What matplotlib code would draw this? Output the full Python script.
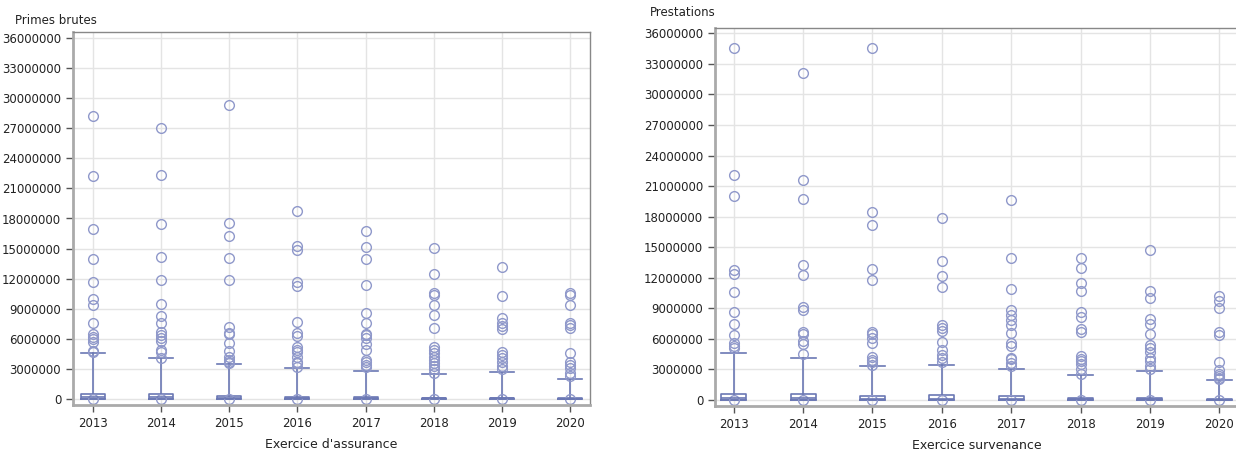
import matplotlib.pyplot as plt

# years on both panels
years = ["2013", "2014", "2015", "2016", "2017", "2018", "2019", "2020"]

# Primes brutes - box statistics
primes_q1 = [0, 0, 0, 0, 0, 0, 0, 0]
primes_med = [150000, 150000, 100000, 80000, 80000, 50000, 50000, 30000]
primes_q3 = [470000, 470000, 330000, 230000, 230000, 130000, 130000, 80000]
primes_whishi = [4550000, 4050000, 3500000, 3050000, 2800000, 2450000, 2650000, 2000000]
primes_out = [
    [28200000, 22200000, 17000000, 14000000, 11700000, 10000000, 9400000, 7600000,
     6500000, 6200000, 6000000, 5700000, 4800000, 4700000, 0],
    [27000000, 22300000, 17500000, 14200000, 11900000, 9500000, 8300000, 7600000,
     6700000, 6400000, 6100000, 5800000, 4900000, 4700000, 4100000, 0],
    [29300000, 17600000, 16300000, 14100000, 11900000, 7200000, 6600000, 6500000,
     5600000, 4800000, 4200000, 3900000, 3700000, 3550000, 0],
    [18700000, 15250000, 14900000, 11700000, 11300000, 7700000, 6600000, 6300000,
     5200000, 4900000, 4700000, 4200000, 3700000, 3550000, 3200000, 0],
    [16800000, 15200000, 14000000, 11400000, 8600000, 7600000, 6500000, 6400000,
     6100000, 5500000, 4900000, 3900000, 3700000, 3400000, 3200000, 0],
    [15100000, 12500000, 10600000, 10400000, 9400000, 8400000, 7050000, 5200000,
     4900000, 4600000, 4200000, 3900000, 3600000, 3300000, 2950000, 2600000, 0],
    [13200000, 10300000, 8050000, 7600000, 7300000, 7000000, 4700000, 4400000,
     4050000, 3700000, 3300000, 2950000, 0],
    [10600000, 10400000, 9400000, 7600000, 7400000, 7050000, 4600000, 3700000,
     3400000, 3100000, 2600000, 2300000, 0],
]

# Prestations - box statistics
prest_q1 = [0, 0, 0, 0, 0, 0, 0, 0]
prest_med = [200000, 150000, 100000, 100000, 100000, 50000, 50000, 30000]
prest_q3 = [620000, 550000, 350000, 460000, 350000, 160000, 160000, 100000]
prest_whishi = [4600000, 4150000, 3300000, 3400000, 3000000, 2500000, 2800000, 1950000]
prest_out = [
    [34600000, 22100000, 20000000, 12800000, 12400000, 10600000, 8600000, 7500000,
     6400000, 5600000, 5300000, 5100000, 0],
    [32100000, 21600000, 19700000, 13300000, 12300000, 9100000, 8800000, 6700000,
     6500000, 5800000, 5500000, 4500000, 0],
    [34600000, 18500000, 17200000, 12900000, 11800000, 6700000, 6500000, 6100000,
     5600000, 4200000, 3900000, 3700000, 3400000, 0],
    [17900000, 13600000, 12200000, 11100000, 7400000, 7100000, 6800000, 5700000,
     4900000, 4400000, 4100000, 3700000, 0],
    [19600000, 13900000, 10900000, 8800000, 8350000, 7900000, 7400000, 6600000,
     5600000, 5300000, 4100000, 4000000, 3600000, 3300000, 0],
    [13900000, 13000000, 11450000, 10700000, 8600000, 8100000, 7000000, 6700000,
     4300000, 4000000, 3800000, 3500000, 3000000, 2600000, 0],
    [14700000, 10700000, 10000000, 8000000, 7500000, 6500000, 5400000, 5100000,
     4700000, 4100000, 3800000, 3300000, 3000000, 0],
    [10200000, 9700000, 9000000, 6700000, 6400000, 3700000, 2950000, 2600000,
     2400000, 2200000, 2100000, 0],
]

line_col = "#6B78B4"
out_col = "#8F98CA"
grid_col = "#E4E4E4"


def draw_box(ax, q1, med, q3, whishi, outs, width):
    stats = []
    for i in range(len(years)):
        stats.append({"q1": q1[i], "med": med[i], "q3": q3[i],
                      "whislo": q1[i], "whishi": whishi[i],
                      "fliers": outs[i], "label": years[i]})
    ax.bxp(stats, positions=range(len(years)), widths=width,
           capwidths=width, showfliers=True, manage_ticks=False,
           boxprops=dict(color=line_col, linewidth=1.2),
           whiskerprops=dict(color=line_col, linewidth=1.2),
           capprops=dict(color=line_col, linewidth=1.2),
           medianprops=dict(color=line_col, linewidth=1.2),
           flierprops=dict(marker="o", markersize=7, markerfacecolor="none",
                           markeredgecolor=out_col, markeredgewidth=1.0))
    ax.set_xticks(range(len(years)))
    ax.set_xticklabels(years)
    ax.set_yticks(range(0, 36000001, 3000000))
    ax.set_yticklabels([str(v) for v in range(0, 36000001, 3000000)])
    ax.grid(True, color=grid_col, linewidth=1)
    ax.set_axisbelow(True)
    ax.tick_params(colors="#555555", labelcolor="#222222", labelsize=8.5,
                   length=5, width=1)
    for s in ["top", "right"]:
        ax.spines[s].set_color("#888888")
        ax.spines[s].set_linewidth(1)
    for s in ["left", "bottom"]:
        ax.spines[s].set_color("#AAAAAA")
        ax.spines[s].set_linewidth(2)


fig = plt.figure(figsize=(12.36, 4.51), dpi=100)

ax1 = fig.add_axes([73 / 1236, 1 - 405 / 451, 517 / 1236, 373 / 451])
draw_box(ax1, primes_q1, primes_med, primes_q3, primes_whishi, primes_out, 0.35)
ax1.set_xlim(-0.29, 7.29)
ax1.set_ylim(-600000, 36600000)
ax1.set_xlabel("Exercice d'assurance", fontsize=9, color="#222222", labelpad=6)

ax2 = fig.add_axes([715 / 1236, 1 - 406 / 451, 523 / 1236, 378 / 451])
draw_box(ax2, prest_q1, prest_med, prest_q3, prest_whishi, prest_out, 0.36)
ax2.set_xlim(-0.27, 7.27)
ax2.set_ylim(-590000, 36520000)
ax2.set_xlabel("Exercice survenance", fontsize=9, color="#222222", labelpad=6)

fig.text(15 / 1236, 1 - 20 / 451, "Primes brutes", fontsize=8.5, color="#222222",
         va="center", ha="left")
fig.text(650 / 1236, 1 - 12 / 451, "Prestations", fontsize=8.5, color="#222222",
         va="center", ha="left")

fig.savefig("out.png", dpi=100)
